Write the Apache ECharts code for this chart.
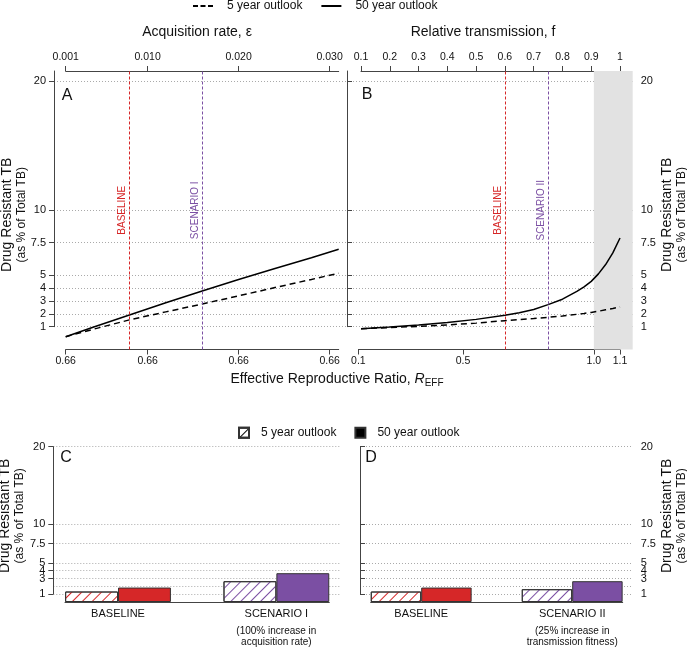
<!DOCTYPE html>
<html><head><meta charset="utf-8">
<script src="https://cdn.jsdelivr.net/npm/echarts@6/dist/echarts.min.js"></script>
<style>html,body{margin:0;padding:0;background:#fff}#c{width:687px;height:650px}</style>
</head><body><div id="c"></div>
<script>
// ---------- data ----------
const epsValues = [0.001, 0.004, 0.008, 0.012, 0.016, 0.020, 0.024, 0.028, 0.031];
const aFiveYear = [0.22, 0.79, 1.52, 2.14, 2.75, 3.38, 4.02, 4.65, 5.13];
const aFiftyYear = [0.22, 0.95, 1.90, 2.85, 3.76, 4.65, 5.50, 6.32, 6.98];

const fValues = [0.1, 0.2, 0.3, 0.4, 0.5, 0.6, 0.65, 0.7, 0.75, 0.8, 0.85, 0.875, 0.9, 0.925, 0.95, 0.975, 1.0];
const bFiveYear = [0.84, 0.93, 1.02, 1.13, 1.27, 1.46, 1.54, 1.62, 1.72, 1.82, 1.95, 2.02, 2.10, 2.19, 2.30, 2.40, 2.52];
const bFiftyYear = [0.84, 0.97, 1.13, 1.32, 1.56, 1.88, 2.08, 2.33, 2.70, 3.12, 3.72, 4.08, 4.50, 5.08, 5.80, 6.70, 7.85];

const epsTicks = [0.001, 0.010, 0.020, 0.030];
const epsTickLabels = ['0.001', '0.010', '0.020', '0.030'];
const rEffATickLabels = ['0.66', '0.66', '0.66', '0.66'];
const fTicks = [0.1, 0.2, 0.3, 0.4, 0.5, 0.6, 0.7, 0.8, 0.9, 1.0];
const fTickLabels = ['0.1', '0.2', '0.3', '0.4', '0.5', '0.6', '0.7', '0.8', '0.9', '1'];
const rEffBTicks = [0.1, 0.5, 1.0, 1.1];
const rEffBTickLabels = ['0.1', '0.5', '1.0', '1.1'];
const yTicks = [1, 2, 3, 4, 5, 7.5, 10, 20];

const baselineEps = 0.008, scenarioIEps = 0.016;
const baselineF = 0.6, scenarioIIF = 0.75;
const rEffAtFullFitness = 1.1;   // R_EFF = 1.1 * f
const rEffThreshold = 1.0;

const barCatsC = ['BASELINE', 'SCENARIO I'];
const barNotesC = ['', '(100% increase in\nacquisition rate)'];
const cFiveYear = [1.35, 2.68];
const cFiftyYear = [1.86, 3.71];

const barCatsD = ['BASELINE', 'SCENARIO II'];
const barNotesD = ['', '(25% increase in\ntransmission fitness)'];
const dFiveYear = [1.35, 1.65];
const dFiftyYear = [1.86, 2.68];

// ---------- style ----------
const FONT = "'Liberation Sans', Arial, Helvetica, sans-serif";
const RED = '#d62728', PURPLE = '#7b4fa3', AX = '#444', TXT = '#111';
const groupColors = [RED, PURPLE];
const yMinTop = -0.77, yMaxTop = 20.77;

function lab(ticks, labels) {
  return v => { const i = ticks.findIndex(t => Math.abs(t - v) < 1e-7); return i >= 0 ? labels[i] : ''; };
}
const hiddenX = (grid, min, max) => ({ type: 'value', gridIndex: grid, min, max, show: false });
const hiddenY = (grid, min, max) => ({ type: 'value', gridIndex: grid, min, max, show: false });
const nameRich = {
  a: { fontSize: 14, lineHeight: 15, color: TXT, fontFamily: FONT },
  b: { fontSize: 12, lineHeight: 14, color: TXT, fontFamily: FONT }
};
const yName = '{a|Drug Resistant TB}\n{b|(as % of Total TB)}';
function nameAxis(grid, min, max, pos, gap, pad) {
  return { type: 'value', gridIndex: grid, min, max, position: pos,
    axisLine: { show: false }, axisTick: { show: false }, axisLabel: { show: false }, splitLine: { show: false },
    name: yName, nameLocation: 'middle', nameRotate: 90, nameGap: gap,
    nameTextStyle: { rich: nameRich, padding: pad } };
}
function tickY(grid, max, pos) {
  return { type: 'value', gridIndex: grid, min: 1, max, position: pos,
    axisLine: { show: true, lineStyle: { color: AX, width: 1 } },
    axisTick: { show: true, inside: false, length: 5, lineStyle: { color: AX }, customValues: yTicks },
    axisLabel: { show: true, customValues: yTicks, margin: 8, fontSize: 11, color: TXT, fontFamily: FONT,
      hideOverlap: false, showMinLabel: true, showMaxLabel: true, formatter: v => String(v) },
    splitLine: { show: true, lineStyle: { color: '#aaa', width: 1, type: [1, 2] } } };
}
function tickX(grid, min, max, pos, ticks, labels, margin) {
  return { type: 'value', gridIndex: grid, min, max, position: pos,
    axisLine: { show: true, onZero: false, lineStyle: { color: AX, width: 1 } },
    axisTick: { show: true, inside: false, length: 5, lineStyle: { color: AX }, customValues: ticks },
    axisLabel: { show: true, customValues: ticks, margin, fontSize: 10.5, color: TXT, fontFamily: FONT,
      hideOverlap: false, showMinLabel: true, showMaxLabel: true, formatter: lab(ticks, labels) },
    splitLine: { show: false } };
}
function lineOnlyX(grid) {
  return { type: 'value', gridIndex: grid, min: 0, max: 1, position: 'bottom',
    axisLine: { show: true, onZero: false, lineStyle: { color: AX, width: 1 } },
    axisTick: { show: false }, axisLabel: { show: false }, splitLine: { show: false } };
}
function catX(grid, cats, notes) {
  return { type: 'category', gridIndex: grid, data: cats, position: 'bottom',
    axisLine: { show: false }, axisTick: { show: false }, splitLine: { show: false },
    axisLabel: { show: true, margin: 1, interval: 0, hideOverlap: false, fontFamily: FONT,
      formatter: (v, i) => {
        let s = '{m|' + v + '}';
        if (notes[i]) notes[i].split('\n').forEach(l => { s += '\n{n|' + l + '}'; });
        return s;
      },
      rich: { m: { fontSize: 11, lineHeight: 22, color: TXT, fontFamily: FONT },
              n: { fontSize: 10, lineHeight: 11.6, color: TXT, fontFamily: FONT } } } };
}
function vline(x, text, color) {
  return { xAxis: x, lineStyle: { color, width: 1, type: [3, 2] },
    label: { show: true, formatter: text, position: 'insideMiddleTop', distance: 2, color, fontSize: 10, fontFamily: FONT } };
}
function lineSeries(name, xs, ys, xi, yi, dashed, extra) {
  return Object.assign({ type: 'line', name, xAxisIndex: xi, yAxisIndex: yi,
    data: xs.map((x, i) => [x, ys[i]]), showSymbol: false, symbol: 'none', smooth: false,
    lineStyle: { color: '#000', width: 1.5, type: dashed ? [6, 4] : 'solid' }, itemStyle: { color: '#000' },
    z: 3, silent: true }, extra || {});
}
function hatch(color) {
  return { symbol: 'rect', symbolSize: 1, dashArrayX: [1, 0], dashArrayY: [1, 6], rotation: -Math.PI / 4, color };
}
function barSeries(kind, vals, xi, yi) {
  const five = kind === 5;
  return { type: 'bar', name: five ? 'bar|5 year outlook' : 'bar|50 year outlook', xAxisIndex: xi, yAxisIndex: yi,
    barGap: '0%', barCategoryGap: '33.2%', silent: true,
    itemStyle: five ? { color: '#fff', borderColor: '#333', borderWidth: 1, decal: hatch('#000') }
                    : { color: '#000', borderColor: '#333', borderWidth: 1 },
    data: vals.map((v, i) => ({ value: v, itemStyle: five
      ? { color: '#fff', borderColor: '#333', borderWidth: 1, decal: hatch(groupColors[i]) }
      : { color: groupColors[i], borderColor: '#333', borderWidth: 1 } })) };
}
const T = (text, left, top, size, extra) => Object.assign({ text, left, top, textAlign: 'center', padding: 0,
  textStyle: { fontSize: size, fontWeight: 'normal', color: TXT, fontFamily: FONT } }, extra || {});

const fMaxB = 0.1 + 271.7 / 287.8;
const markLineBase = { silent: true, symbol: ['none', 'none'], precision: 6 };

const option = {
  animation: false,
  backgroundColor: '#fff',
  textStyle: { fontFamily: FONT },
  title: [
    T('Acquisition rate, ε', 197, 25, 14),
    T('Relative transmission, f', 483, 25, 14),
    T('Effective Reproductive Ratio, {i|R}{s|EFF}', 337, 370, 14, {
      textStyle: { fontSize: 14, fontWeight: 'normal', color: TXT, fontFamily: FONT,
        rich: { i: { fontSize: 14, fontStyle: 'italic', color: TXT, fontFamily: FONT, lineHeight: 18 },
                s: { fontSize: 10, color: TXT, fontFamily: FONT, verticalAlign: 'bottom', lineHeight: 18 } } } }),
    T('A', 67, 88, 16), T('B', 367, 87, 16), T('C', 66, 450, 16), T('D', 371, 450, 16)
  ],
  legend: [
    { left: 193, top: 0, padding: 0, itemWidth: 20, itemHeight: 2, itemGap: 19, selectedMode: false,
      data: [
        { name: '5 year outlook', icon: 'path://M0,0h5v2h-5zM7.5,0h5v2h-5zM15,0h5v2h-5z' },
        { name: '50 year outlook', icon: 'path://M0,0h20v2h-20z' }
      ],
      itemStyle: { color: '#000', borderWidth: 0 },
      textStyle: { fontSize: 12, color: TXT, fontFamily: FONT, padding: [0, 0, 0, 9] } },
    { left: 238, top: 426.7, padding: 0, itemWidth: 10, itemHeight: 10, itemGap: 18, icon: 'rect',
      data: ['bar|5 year outlook', 'bar|50 year outlook'], selectedMode: false,
      formatter: n => n.split('|').pop(),
      textStyle: { fontSize: 12, color: TXT, fontFamily: FONT, padding: [0, 0, 0, 7] } }
  ],
  grid: [
    { left: 65.7, top: 71, width: 273, height: 278.5 },   //0 series A
    { left: 54, top: 71, width: 294, height: 255.7 },     //1 y A
    { left: 361, top: 71, width: 271.7, height: 278.5 },  //2 series B
    { left: 361, top: 71, width: 259, height: 278.5 },    //3 top f axis
    { left: 358.4, top: 71, width: 261.6, height: 278.5 },//4 bottom R axis
    { left: 347, top: 71, width: 285.7, height: 255.7 },  //5 y B
    { left: 38.85, top: 446.7, width: 316.7, height: 155.3 }, //6 bars C
    { left: 65, top: 446.7, width: 264.3, height: 155.3 },    //7 base line C
    { left: 53.3, top: 446.7, width: 286.7, height: 147.3 },  //8 y C
    { left: 345.7, top: 446.7, width: 302, height: 155.3 },   //9 bars D
    { left: 370.7, top: 446.7, width: 252, height: 155.3 },   //10 base line D
    { left: 360, top: 446.7, width: 272.7, height: 147.3 }    //11 y D
  ].map(g => Object.assign({ containLabel: false, outerBoundsMode: 'none' }, g)),
  xAxis: [
    tickX(0, 0.001, 0.031, 'top', epsTicks, epsTickLabels, 8),        //0
    tickX(0, 0.001, 0.031, 'bottom', epsTicks, rEffATickLabels, 6),   //1
    hiddenX(1, 0, 1),                                                 //2
    hiddenX(2, 0.1, fMaxB),                                           //3
    tickX(3, 0.1, 1.0, 'top', fTicks, fTickLabels, 8),                //4
    tickX(4, 0.1, rEffAtFullFitness, 'bottom', rEffBTicks, rEffBTickLabels, 6), //5
    hiddenX(5, 0, 1),                                                 //6
    catX(6, barCatsC, barNotesC),                                     //7
    lineOnlyX(7),                                                     //8
    hiddenX(8, 0, 1),                                                 //9
    catX(9, barCatsD, barNotesD),                                     //10
    lineOnlyX(10),                                                    //11
    hiddenX(11, 0, 1)                                                 //12
  ],
  yAxis: [
    nameAxis(0, yMinTop, yMaxTop, 'left', 37, [0, 9, 0, 0]),   //0
    tickY(1, yMaxTop, 'left'),                                  //1
    nameAxis(2, yMinTop, yMaxTop, 'right', 27, [0, 9, 0, 0]),  //2
    hiddenY(3, 0, 1),                                           //3
    hiddenY(4, 0, 1),                                           //4
    tickY(5, yMaxTop, 'right'),                                 //5
    hiddenY(6, 0, 20),                                          //6
    hiddenY(7, 0, 1),                                           //7
    Object.assign(tickY(8, 20, 'left'), { name: yName, nameLocation: 'middle', nameRotate: 90, nameGap: 24,
      nameTextStyle: { rich: nameRich, padding: [0, 0, 0, 9] } }),           //8
    hiddenY(9, 0, 20),                                          //9
    hiddenY(10, 0, 1),                                          //10
    Object.assign(tickY(11, 20, 'right'), { name: yName, nameLocation: 'middle', nameRotate: 90, nameGap: 27,
      nameTextStyle: { rich: nameRich, padding: [0, 0, 0, 9] } })            //11
  ],
  series: [
    lineSeries('5 year outlook', epsValues, aFiveYear, 0, 0, true, {
      markLine: Object.assign({ data: [vline(baselineEps, 'BASELINE', RED), vline(scenarioIEps, 'SCENARIO I', PURPLE)] }, markLineBase) }),
    lineSeries('50 year outlook', epsValues, aFiftyYear, 0, 0, false),
    lineSeries('5 year outlook', fValues, bFiveYear, 3, 2, true, {
      markLine: Object.assign({ data: [vline(baselineF, 'BASELINE', RED), vline(scenarioIIF, 'SCENARIO II', PURPLE)] }, markLineBase),
      markArea: { silent: true, itemStyle: { color: '#e2e2e2' },
        data: [[{ xAxis: rEffThreshold / rEffAtFullFitness }, { xAxis: fMaxB }]] } }),
    lineSeries('50 year outlook', fValues, bFiftyYear, 3, 2, false),
    barSeries(5, cFiveYear, 7, 6),
    barSeries(50, cFiftyYear, 7, 6),
    barSeries(5, dFiveYear, 10, 9),
    barSeries(50, dFiftyYear, 10, 9)
  ]
};
const chart = echarts.init(document.getElementById('c'), null, { renderer: 'canvas' });
chart.setOption(option);
</script></body></html>
